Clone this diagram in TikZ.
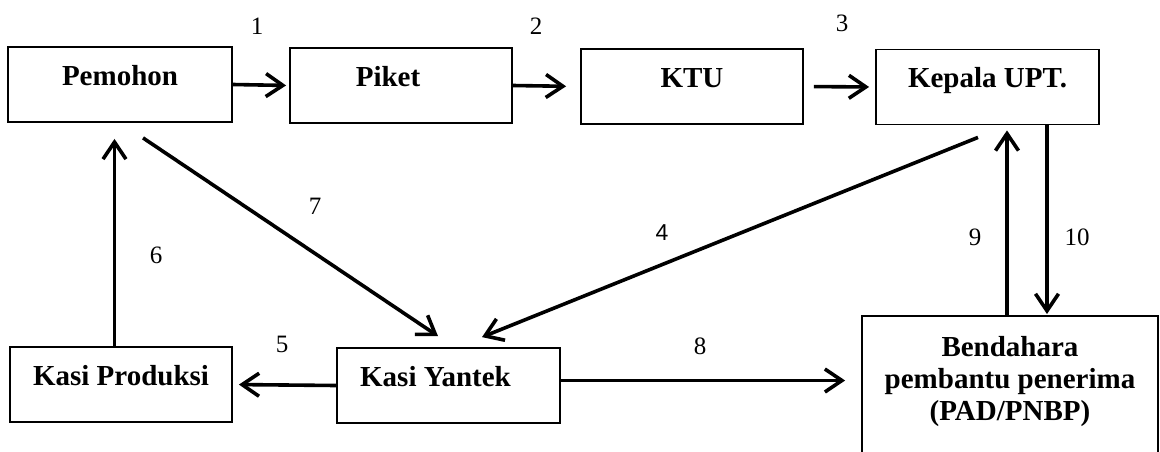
\documentclass[tikz,border=0pt]{standalone}
\usepackage{fontspec}
\setmainfont{Liberation Serif}
\newfontfamily\sansnum{Liberation Sans}
\usetikzlibrary{arrows.meta, positioning, calc}

\newcommand{\boxfont}{\bfseries\fontsize{29}{32}\selectfont}
\newcommand{\stepfont}{\fontsize{25}{27}\selectfont}

\tikzset{
  office/.style={draw, line width=1.8pt, inner sep=0pt, minimum width=222pt,
    text height=38pt, text depth=37pt, font=\boxfont},
  flow/.style={-{Straight Barb[length=17pt, width=23pt]}, line width=3.6pt},
  stepno/.style={font=\stepfont, inner sep=0pt}
}

\begin{document}
\begin{tikzpicture}[x=1pt, y=-1pt]
  \useasboundingbox (0,0) rectangle (1160,451);
  \clip (0,0) rectangle (1160,451);
  % top row
  \node[office, minimum width=224pt] (pemohon) at (120,84.5) {Pemohon};
  \node[office] (piket) at (401,85.5) {Piket\hspace*{26pt}};
  \node[office] (ktu) at (692,86.5) {KTU};
  \node[office, minimum width=223pt] (kepala) at (987.5,87) {Kepala UPT.};
  % bottom row
  \node[office] (produksi) at (121,384.5) {Kasi Produksi};
  \node[office, minimum width=223pt] (yantek) at (448.5,385.5) {Kasi Yantek\hspace*{26pt}};
  \node[office, minimum width=296pt, minimum height=160pt, anchor=north] (bendahara) at (1010,315) {};
  \node[align=center, font=\boxfont, inner sep=0pt] (bendtext) at (1010,382)
    {Bendahara\\pembantu penerima\\(PAD/PNBP)};

  % flow of the request
  \draw[flow, shorten >=3pt] (pemohon.east) -- (piket.west);
  \draw[flow, shorten >=14pt] (piket.east) -- (ktu.west);
  \draw[flow, shorten <=10pt, shorten >=6pt] (ktu.east) -- (kepala.west);
  \draw[flow] ([shift={(-9.5,12)}]kepala.south) -- ([shift={(33.5,-10)}]yantek.north);
  \draw[flow, shorten >=6pt] (yantek.west) -- (produksi.east);
  \draw[flow, shorten >=16pt] ([xshift=-6.5pt]produksi.north) -- ([xshift=-6.5pt]produksi.north |- pemohon.south);
  \draw[flow] ([shift={(23,15)}]pemohon.south) -- ([shift={(-10.5,-11)}]yantek.north);
  \draw[flow, shorten >=16pt] ([yshift=5pt]yantek.east) coordinate (s8) -- (s8 -| bendahara.west);
  \draw[flow, shorten >=5pt] ([xshift=-3pt]bendahara.north) -- ([xshift=-3pt]bendahara.north |- kepala.south);
  \draw[flow, shorten >=1pt] ([xshift=37pt]bendahara.north |- kepala.south) -- ([xshift=37pt]bendahara.north);

  % step numbers
  \node[stepno] (n1) at (257,26) {1};
  \node[stepno] (n2) at (536,26) {2};
  \node[stepno] (n3) at (842,23) {3};
  \node[stepno, font=\sansnum\fontsize{23}{25}\selectfont] (n4) at (662,233) {4};
  \node[stepno] (n5) at (282,344) {5};
  \node[stepno] (n6) at (156,255) {6};
  \node[stepno] (n7) at (315,206) {7};
  \node[stepno] (n8) at (700,346) {8};
  \node[stepno] (n9) at (975,237) {9};
  \node[stepno] (n10) at (1077,237) {10};
\end{tikzpicture}
\end{document}
